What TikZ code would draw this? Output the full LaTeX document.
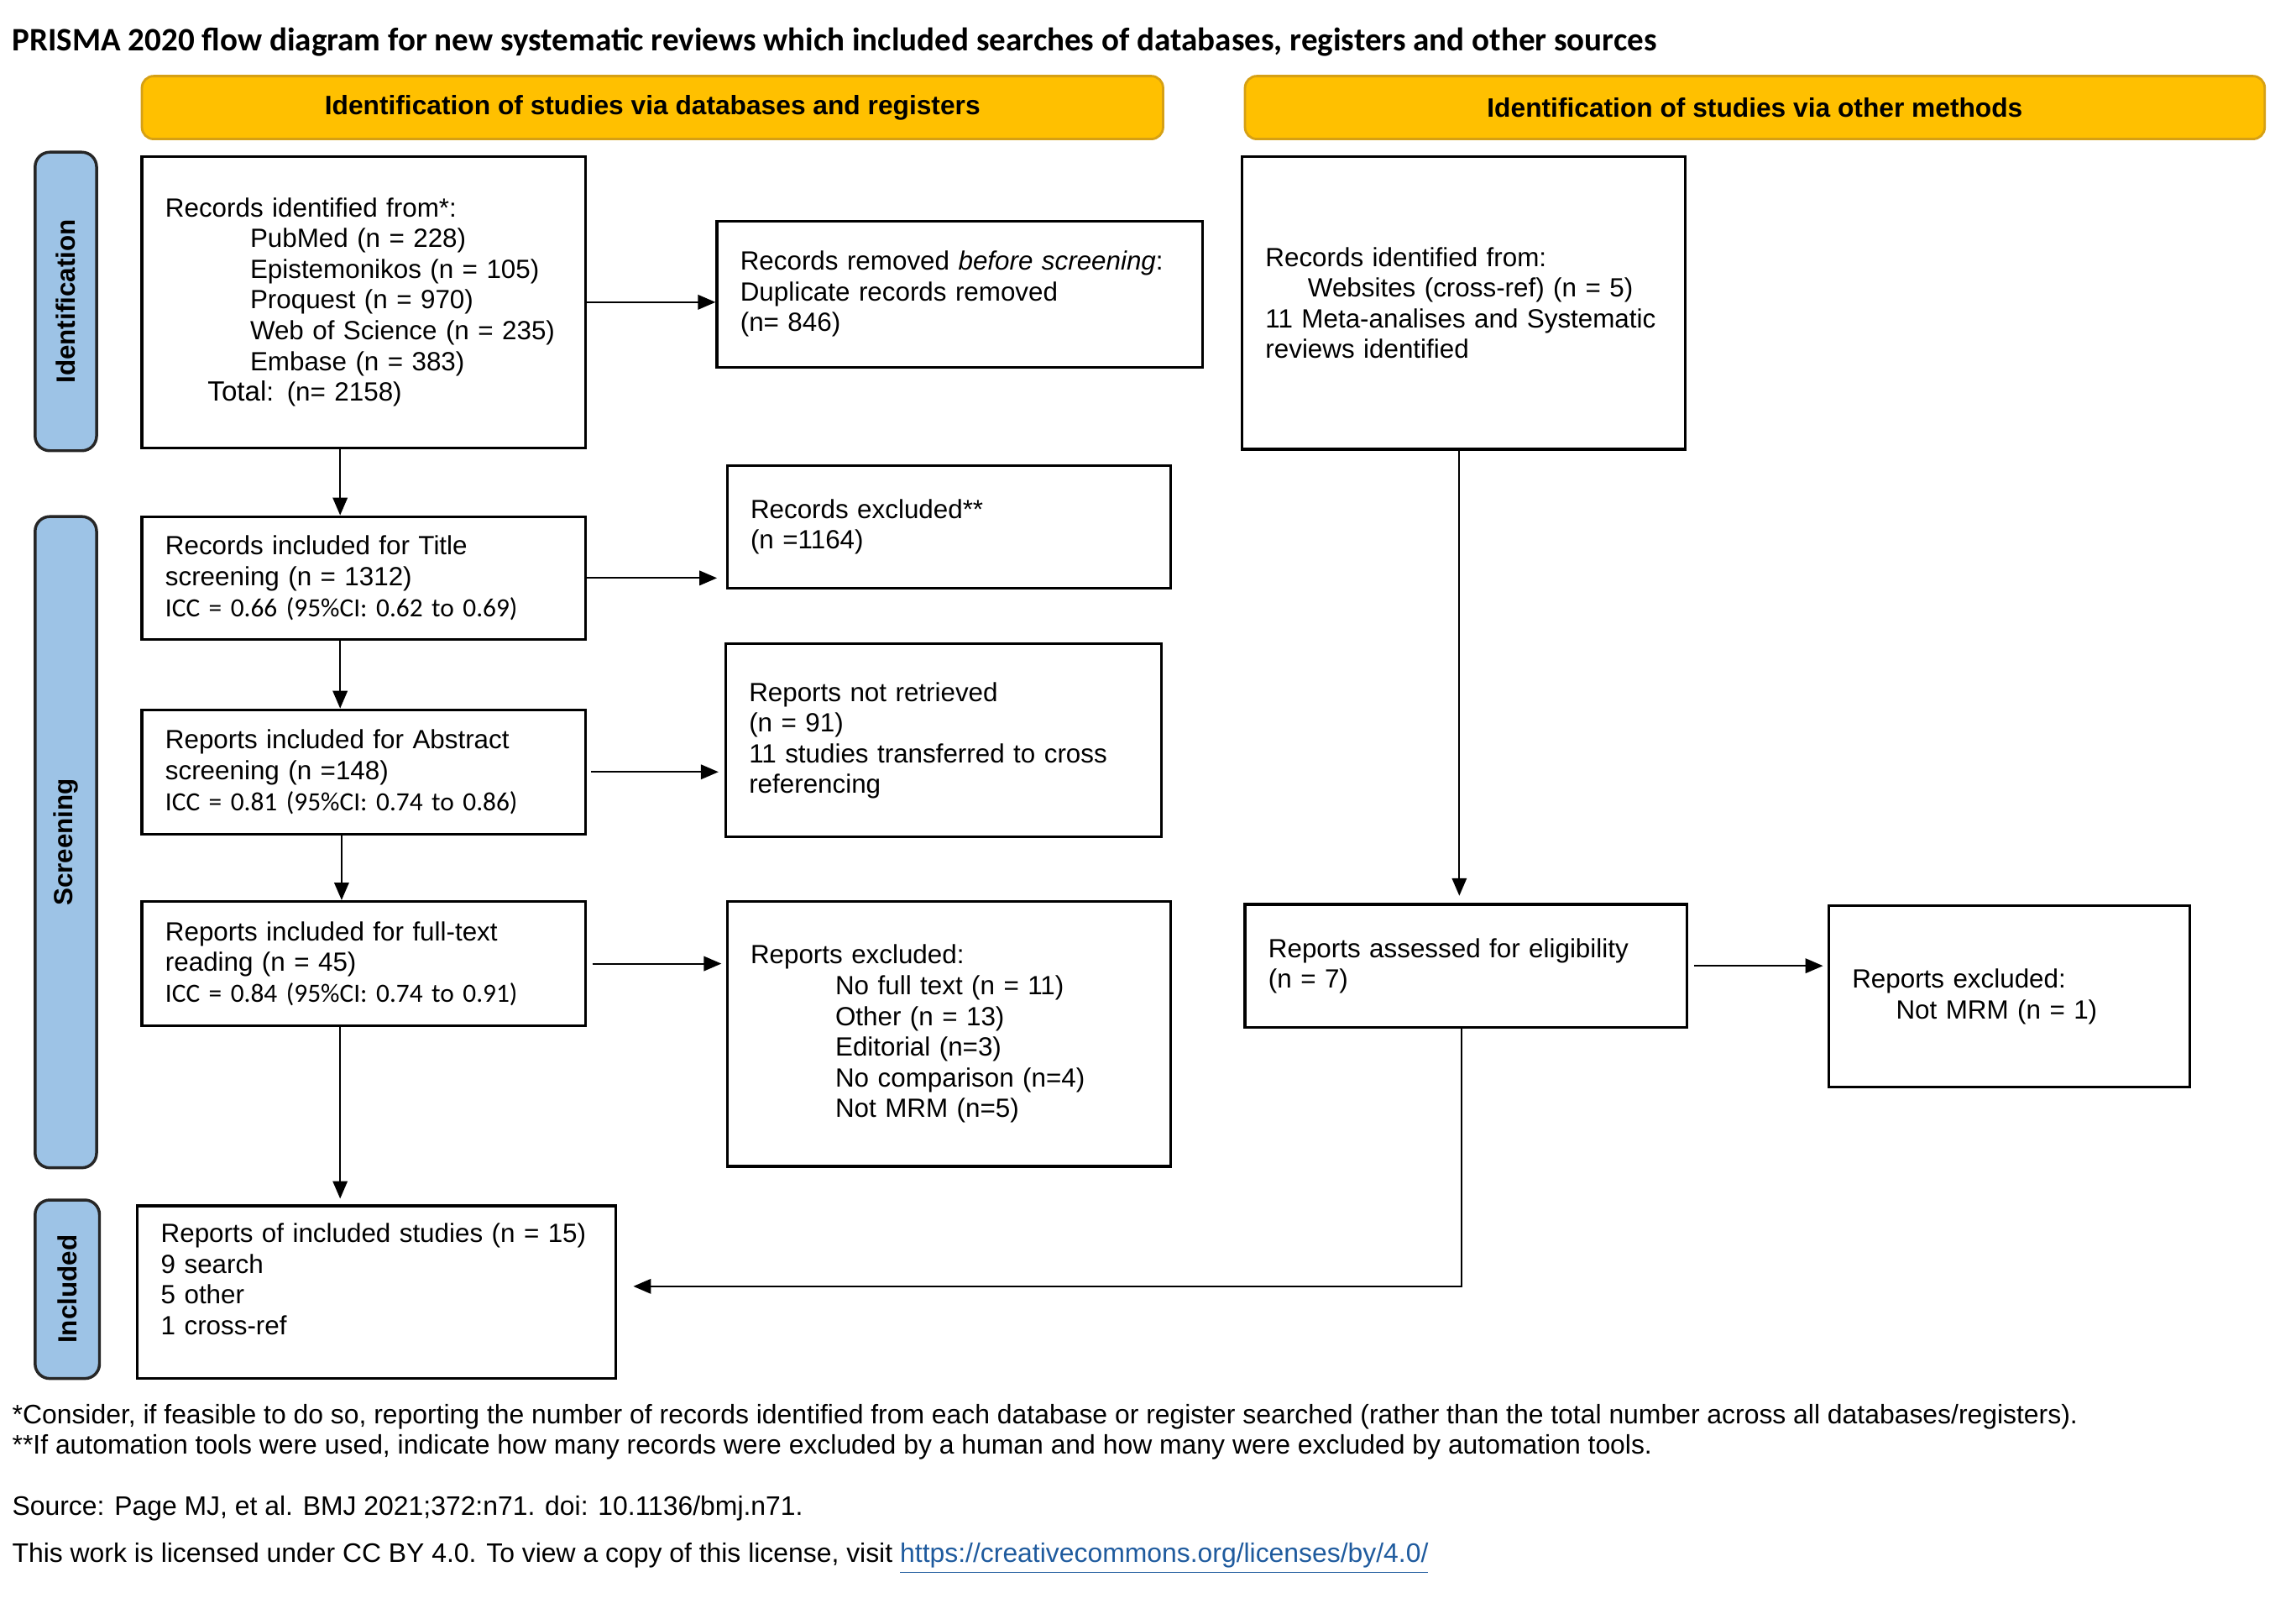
\documentclass[tikz,border=0pt]{standalone}
\usepackage{fontspec}
\setmainfont{Liberation Sans}
\newfontfamily\calibri{Carlito}
\usetikzlibrary{arrows.meta}

\definecolor{prismagold}{RGB}{255,192,0}
\definecolor{goldline}{RGB}{214,160,20}
\definecolor{prismablue}{RGB}{157,195,230}
\definecolor{linkblue}{RGB}{31,91,158}

\begin{document}
\begin{tikzpicture}[x=0.5pt, y=-0.5pt,
    box/.style={draw, line width=0.9pt, align=left, inner xsep=8pt, inner ysep=2pt,
        font=\fontsize{9}{10.5}\selectfont},
    dim/.style 2 args={minimum width=#1pt, minimum height=#2pt, text width=#1pt-16pt},
    header/.style={draw=goldline, fill=prismagold, line width=0.8pt, rounded corners=4pt,
        minimum width=349pt, minimum height=21.5pt, font=\bfseries\fontsize{9.1}{10.5}\selectfont},
    phase/.style={draw=black!85, fill=prismablue, line width=1pt, rounded corners=5pt,
        rotate=90, minimum height=21pt, inner sep=0pt, font=\bfseries\fontsize{9}{10.5}\selectfont},
    arr/.style={-{Triangle[length=6pt,width=5pt]}, line width=0.6pt},
    note/.style={anchor=west, inner sep=0pt, font=\fontsize{9.15}{10.5}\selectfont}]

    \useasboundingbox (0,0) rectangle (1569.4,1091.5);

    % Title
    \node[anchor=west, inner sep=0pt, font=\calibri\bfseries\fontsize{11.2}{13}\selectfont] (title) at (8,29)
        {PRISMA 2020 flow diagram for new systematic reviews which included searches of databases, registers and other sources};

    % Column headers
    \node[header] (hdb) at (446,73.5) {Identification of studies via databases and registers};
    \node[header, minimum width=348.5pt] (hother) at (1199.5,73.5) {Identification of studies via other methods};

    % Phases
    \node[phase, minimum width=102pt] (phid) at (45,206) {Identification};
    \node[phase, minimum width=222.5pt] (phscr) at (45,575.5) {Screening};
    \node[phase, minimum width=61pt, minimum height=22pt] (phinc) at (46,881) {Included};

    % Identification: databases and registers
    \node[box, dim={151.5}{99.5}] (recdb) at (248.5,206.5) {Records identified from*:\\
        \hspace*{29pt}PubMed (n = 228)\\
        \hspace*{29pt}Epistemonikos (n = 105)\\
        \hspace*{29pt}Proquest (n = 970)\\
        \hspace*{29pt}Web of Science (n = 235)\\
        \hspace*{29pt}Embase (n = 383)\\
        \hspace*{14.5pt}{\fontsize{9.5}{10.5}\selectfont Total}: (n= 2158)};
    \node[box, dim={166}{50}] (removed) at (656,201) {Records removed \emph{before screening}:\\
        Duplicate records removed\\
        (n= 846)};

    % Identification: other methods
    \node[box, dim={151.5}{100}] (recother) at (1000.5,207) {Records identified from:\\
        \hspace*{14.5pt}Websites (cross-ref) (n = 5)\\
        11 Meta-analises and Systematic\\
        reviews identified};

    % Screening
    \node[box, dim={151.5}{42}] (titlescr) at (248.5,395) {Records included for Title\\
        screening (n = 1312)\\
        {\calibri ICC = 0.66 (95\%CI: 0.62 to 0.69)}};
    \node[box, dim={151.5}{42}] (recexcl) at (648.5,360) {Records excluded**\\
        (n =1164)};

    \node[box, dim={151.5}{42.5}] (abstr) at (248.5,527.5) {Reports included for Abstract\\
        screening (n =148)\\
        {\calibri ICC = 0.81 (95\%CI: 0.74 to 0.86)}};
    \node[box, dim={149}{66}] (notret) at (645,506) {Reports not retrieved\\
        (n = 91)\\
        11 studies transferred to cross\\
        referencing};

    \node[box, dim={151.5}{42.5}] (fulltext) at (248.5,658.5) {Reports included for full-text\\
        reading (n = 45)\\
        {\calibri ICC = 0.84 (95\%CI: 0.74 to 0.91)}};
    \node[box, dim={151.5}{90.5}] (repexcl) at (648.5,706.5) {Reports excluded:\\
        \hspace*{29pt}No full text (n = 11)\\
        \hspace*{29pt}Other (n = 13)\\
        \hspace*{29pt}Editorial (n=3)\\
        \hspace*{29pt}No comparison (n=4)\\
        \hspace*{29pt}Not MRM (n=5)};

    \node[box, dim={151}{42}] (assessed) at (1002,660) {Reports assessed for eligibility\\
        (n = 7)};
    \node[box, dim={123.5}{62}] (othexcl) at (1373.5,681) {Reports excluded:\\
        \hspace*{15pt}Not MRM (n = 1)};

    % Included
    \node[box, dim={163.5}{59}] (incl) at (257.5,883) {Reports of included studies (n = 15)\\
        9 search\\
        5 other\\
        1 cross-ref\\[-1.5pt]\mbox{}};

    % Arrows
    \draw[arr] (recdb.east) -- (recdb.east -| removed.west);
    \draw[arr] ([xshift=-8pt]recdb.south) -- ([xshift=-8pt]titlescr.north);
    \draw[arr, shorten >=3pt] (titlescr.east) -- (titlescr.east -| recexcl.west);
    \draw[arr] ([xshift=-8pt]titlescr.south) -- ([xshift=-8pt]abstr.north);
    \draw[arr, shorten <=1.5pt, shorten >=2pt] (abstr.east) -- (abstr.east -| notret.west);
    \draw[arr] ([xshift=-7.5pt]abstr.south) -- ([xshift=-7.5pt]fulltext.north);
    \draw[arr, shorten <=2pt, shorten >=1.5pt] (fulltext.east) -- (fulltext.east -| repexcl.west);
    \draw[arr, shorten >=2pt] ([xshift=-8pt]fulltext.south) -- ([xshift=-8pt]fulltext.south |- incl.north);
    \draw[arr, shorten >=2.5pt] ([xshift=-1.5pt]recother.south) -- ([xshift=-1.5pt]recother.south |- assessed.north);
    \draw[arr, shorten <=2pt, shorten >=1.5pt] (assessed.east) -- (assessed.east -| othexcl.west);
    \draw[arr, shorten >=5.5pt] ([xshift=-1.5pt]assessed.south) |- ([yshift=2pt]incl.east);

    % Notes
    \node[note] (fnone) at (8,968) {*Consider, if feasible to do so, reporting the number of records identified from each database or register searched (rather than the total number across all databases/registers).};
    \node[note] (fntwo) at (8,989) {**If automation tools were used, indicate how many records were excluded by a human and how many were excluded by automation tools.};
    \node[note] (source) at (8,1031) {Source: Page MJ, et al. BMJ 2021;372:n71. doi: 10.1136/bmj.n71.};
    \node[note] (licence) at (8,1065) {This work is licensed under CC BY 4.0. To view a copy of this license, visit {\color{linkblue}\underline{https://creativecommons.org/licenses/by/4.0/}}};
\end{tikzpicture}
\end{document}
